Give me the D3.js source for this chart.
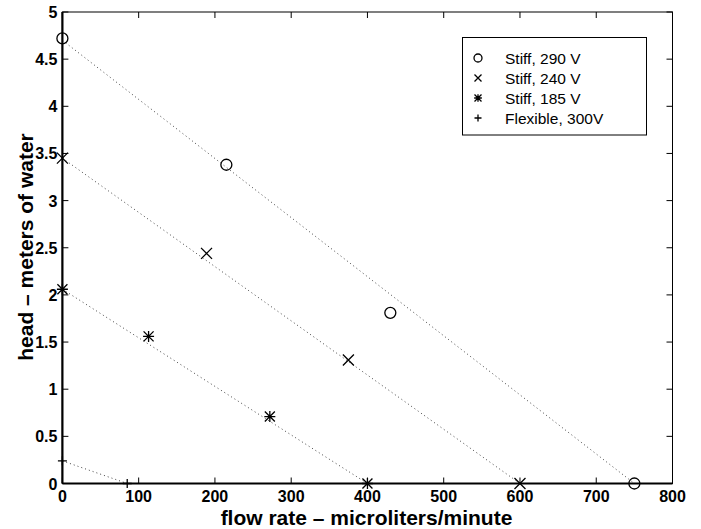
<!DOCTYPE html>
<html><head><meta charset="utf-8">
<script src="https://cdn.jsdelivr.net/npm/d3@7"></script>
<style>body{margin:0;background:#fff}svg{display:block}</style>
</head><body>
<svg id="c" width="701" height="529"></svg>
<script>
const seriesNames = ["Stiff, 290 V", "Stiff, 240 V", "Stiff, 185 V", "Flexible, 300V"];
const seriesMarkers = ["circle", "x", "star", "plus"];
const flow290 = [0, 215, 430, 750];
const head290 = [4.72, 3.38, 1.81, 0];
const flow240 = [0, 189, 375, 600];
const head240 = [3.45, 2.44, 1.31, 0];
const flow185 = [0, 113, 272, 400];
const head185 = [2.06, 1.56, 0.71, 0];
const flowFlex = [0, 85];
const headFlex = [0.24, 0];
// dotted fit lines (endpoints)
const fit290 = [[0, 4.7], [750, 0]];
const fit240 = [[0, 3.45], [600, 0]];
const fit185 = [[0, 2.06], [400, 0]];
const fitFlex = [[0, 0.24], [85, 0]];
const xTicks = [0,100,200,300,400,500,600,700,800];
const yTicks = [0,0.5,1,1.5,2,2.5,3,3.5,4,4.5,5];

const svg = d3.select("#c");
const L = 62.4, R = 672.5, T = 12, B = 483.5;
const x = d3.scaleLinear().domain([0,800]).range([L,R]);
const y = d3.scaleLinear().domain([0,5]).range([B,T]);
const font = "'Liberation Sans', Arial, Helvetica, sans-serif";

// fit lines
const fits = [fit290, fit240, fit185, fitFlex];
const line = d3.line().x(d=>x(d[0])).y(d=>y(d[1]));
svg.selectAll("path.fit").data(fits).join("path")
  .attr("class","fit").attr("d", line)
  .attr("fill","none").attr("stroke","#444").attr("stroke-width",1)
  .attr("stroke-dasharray","1,3");

// axes box
svg.append("rect").attr("x",L).attr("y",T).attr("width",R-L).attr("height",B-T)
  .attr("fill","none").attr("stroke","#000").attr("stroke-width",1);
svg.append("line").attr("x1",L).attr("x2",R).attr("y1",B).attr("y2",B).attr("stroke","#000").attr("stroke-width",2.2);
svg.append("line").attr("x1",L).attr("x2",L).attr("y1",T).attr("y2",B).attr("stroke","#000").attr("stroke-width",2.2);

// ticks
const tl = 6;
const tg = svg.append("g").attr("stroke","#000").attr("stroke-width",1);
xTicks.forEach(t=>{
  tg.append("line").attr("x1",x(t)).attr("x2",x(t)).attr("y1",B).attr("y2",B-tl);
  tg.append("line").attr("x1",x(t)).attr("x2",x(t)).attr("y1",T).attr("y2",T+tl);
});
yTicks.forEach(t=>{
  tg.append("line").attr("x1",L).attr("x2",L+tl).attr("y1",y(t)).attr("y2",y(t));
  tg.append("line").attr("x1",R).attr("x2",R-tl).attr("y1",y(t)).attr("y2",y(t));
});
svg.append("g").selectAll("text").data(xTicks).join("text")
  .attr("x",d=>x(d)).attr("y",B+18.5).attr("text-anchor","middle")
  .attr("font-family",font).attr("font-weight","bold").attr("font-size",16).text(d=>d);
svg.append("g").selectAll("text").data(yTicks).join("text")
  .attr("x",L-5).attr("y",d=>y(d)+6).attr("text-anchor","end")
  .attr("font-family",font).attr("font-weight","bold").attr("font-size",16).text(d=>d);

svg.append("text").attr("x",366.5).attr("y",525).attr("text-anchor","middle")
  .attr("font-family",font).attr("font-weight","bold").attr("font-size",21)
  .text("flow rate – microliters/minute");
svg.append("text").attr("transform",`translate(33,247) rotate(-90)`).attr("text-anchor","middle")
  .attr("font-family",font).attr("font-weight","bold").attr("font-size",21)
  .text("head – meters of water");

// markers
function marker(g, type, cx, cy, s){
  const h = s/2;
  if(type==="circle"){
    g.append("circle").attr("cx",cx).attr("cy",cy).attr("r",h).attr("fill","none").attr("stroke","#000").attr("stroke-width",1.3);
  } else {
    const p = d3.path();
    if(type==="x"||type==="star"){ p.moveTo(cx-h,cy-h); p.lineTo(cx+h,cy+h); p.moveTo(cx-h,cy+h); p.lineTo(cx+h,cy-h); }
    if(type==="plus"||type==="star"){ const k = type==="star"? h*1.1 : h; p.moveTo(cx-k,cy); p.lineTo(cx+k,cy); p.moveTo(cx,cy-k); p.lineTo(cx,cy+k); }
    g.append("path").attr("d",p.toString()).attr("fill","none").attr("stroke","#000").attr("stroke-width",1.3);
  }
}
const series = [[flow290,head290],[flow240,head240],[flow185,head185],[flowFlex,headFlex]];
const sizes = [11, 11, 10, 9];
const mg = svg.append("g");
series.forEach((s,i)=>{
  s[0].forEach((fx,j)=> marker(mg, seriesMarkers[i], x(fx), y(s[1][j]), sizes[i]));
});

// legend
const lg = svg.append("g");
lg.append("rect").attr("x",462.5).attr("y",37.5).attr("width",184).attr("height",97.5)
  .attr("fill","#fff").attr("stroke","#000").attr("stroke-width",1);
seriesNames.forEach((n,i)=>{
  const ly = 58 + i*20;
  marker(lg, seriesMarkers[i], 478, ly, i===0?8:7);
  lg.append("text").attr("x",505).attr("y",ly+5.5).attr("font-family",font).attr("font-size",15.5).text(n);
});
</script>
</body></html>
